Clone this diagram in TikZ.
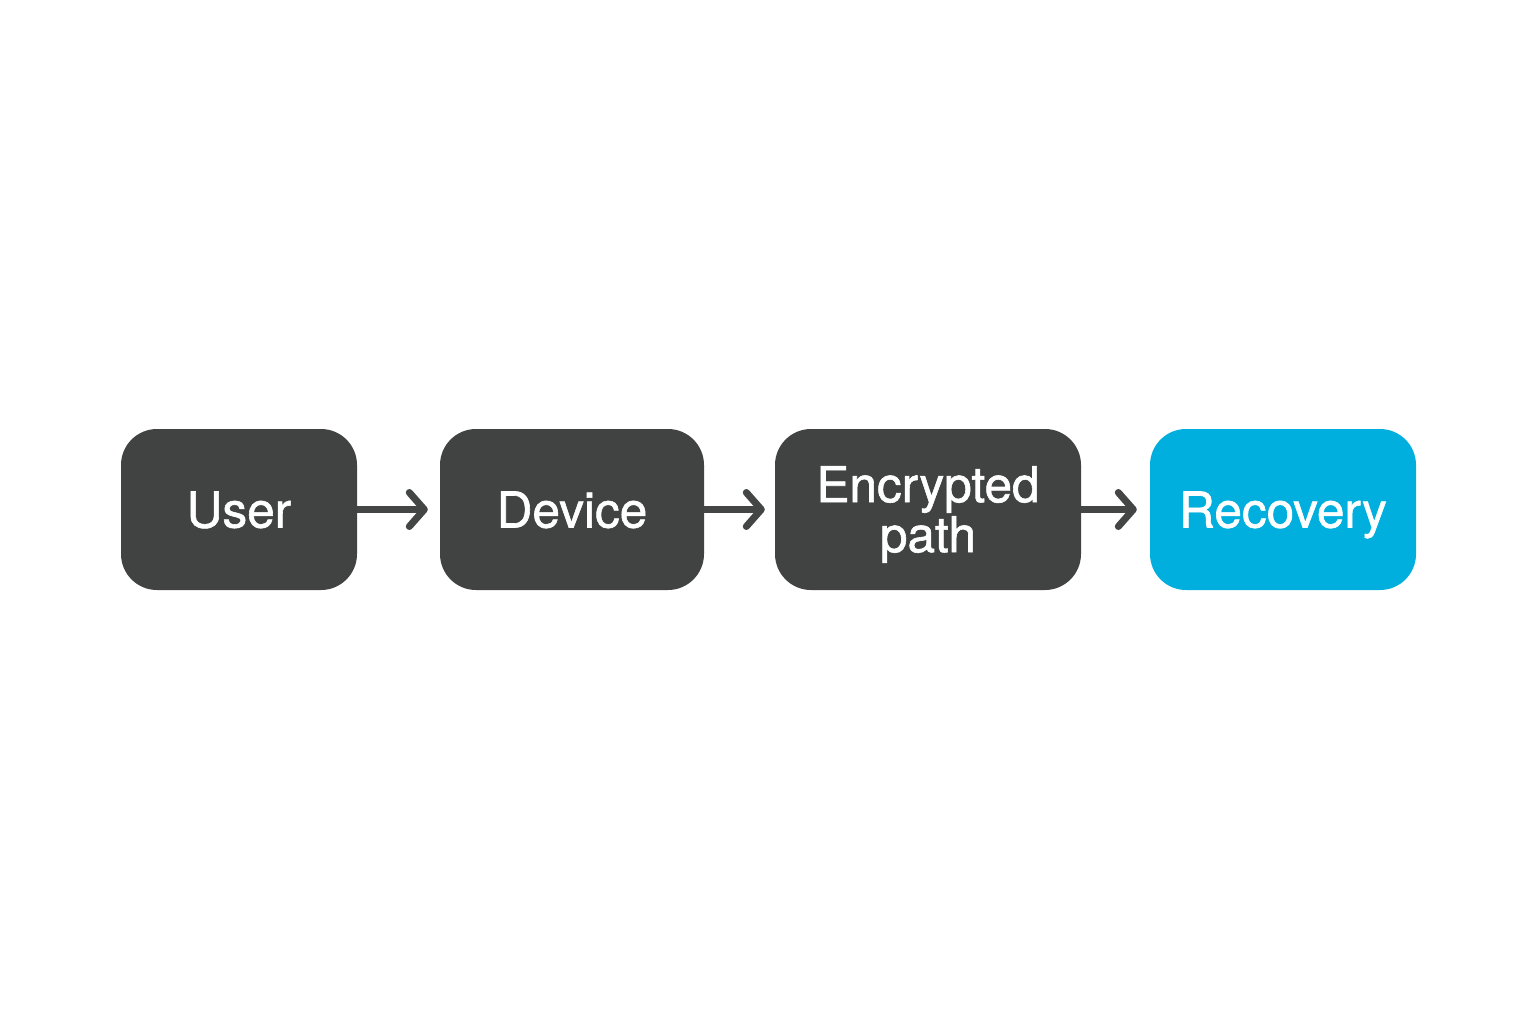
\documentclass[tikz,border=0pt]{standalone}
\usepackage{fontspec}
\setmainfont{TeX Gyre Heros}
\newfontfamily\boxfont{TeX Gyre Heros}[FakeBold=1.2]
\usetikzlibrary{arrows.meta}
\definecolor{boxdark}{HTML}{414342}
\definecolor{boxblue}{HTML}{00AFDD}
\definecolor{arrowgray}{HTML}{444645}
\tikzset{
  boxtext/.style={text=white, inner sep=0pt, align=center,
    font=\boxfont\fontsize{49.5}{50}\selectfont},
  stepbox/.style={boxtext, rectangle, rounded corners=36pt, fill=boxdark,
    minimum height=161pt, text depth=0pt},
  bluebox/.style={stepbox, fill=boxblue},
  flow/.style={draw=arrowgray, line width=7pt,
    -{Straight Barb[length=15pt,width=34pt,line cap=round,line join=round]}}
}
\begin{document}
\begin{tikzpicture}[x=1pt,y=1pt]
\useasboundingbox (0,0) rectangle (1536,-1024);
\node[stepbox, minimum width=236pt] (user) at (239,-509.5) {User};
\node[stepbox, minimum width=264pt] (device) at (572,-509.5) {Device};
\node[stepbox, minimum width=306pt] (enc) at (928,-509.5) {};
\node[boxtext] (enctext) at ([yshift=-5pt]enc.center) {Encrypted\\path};
\node[bluebox, minimum width=266pt] (rec) at (1283,-509.5) {Recovery};
\draw[flow] (user.east) -- ([xshift=-12pt]device.west);
\draw[flow] (device.east) -- ([xshift=-10pt]enc.west);
\draw[flow] (enc.east) -- ([xshift=-13pt]rec.west);
\end{tikzpicture}
\end{document}
